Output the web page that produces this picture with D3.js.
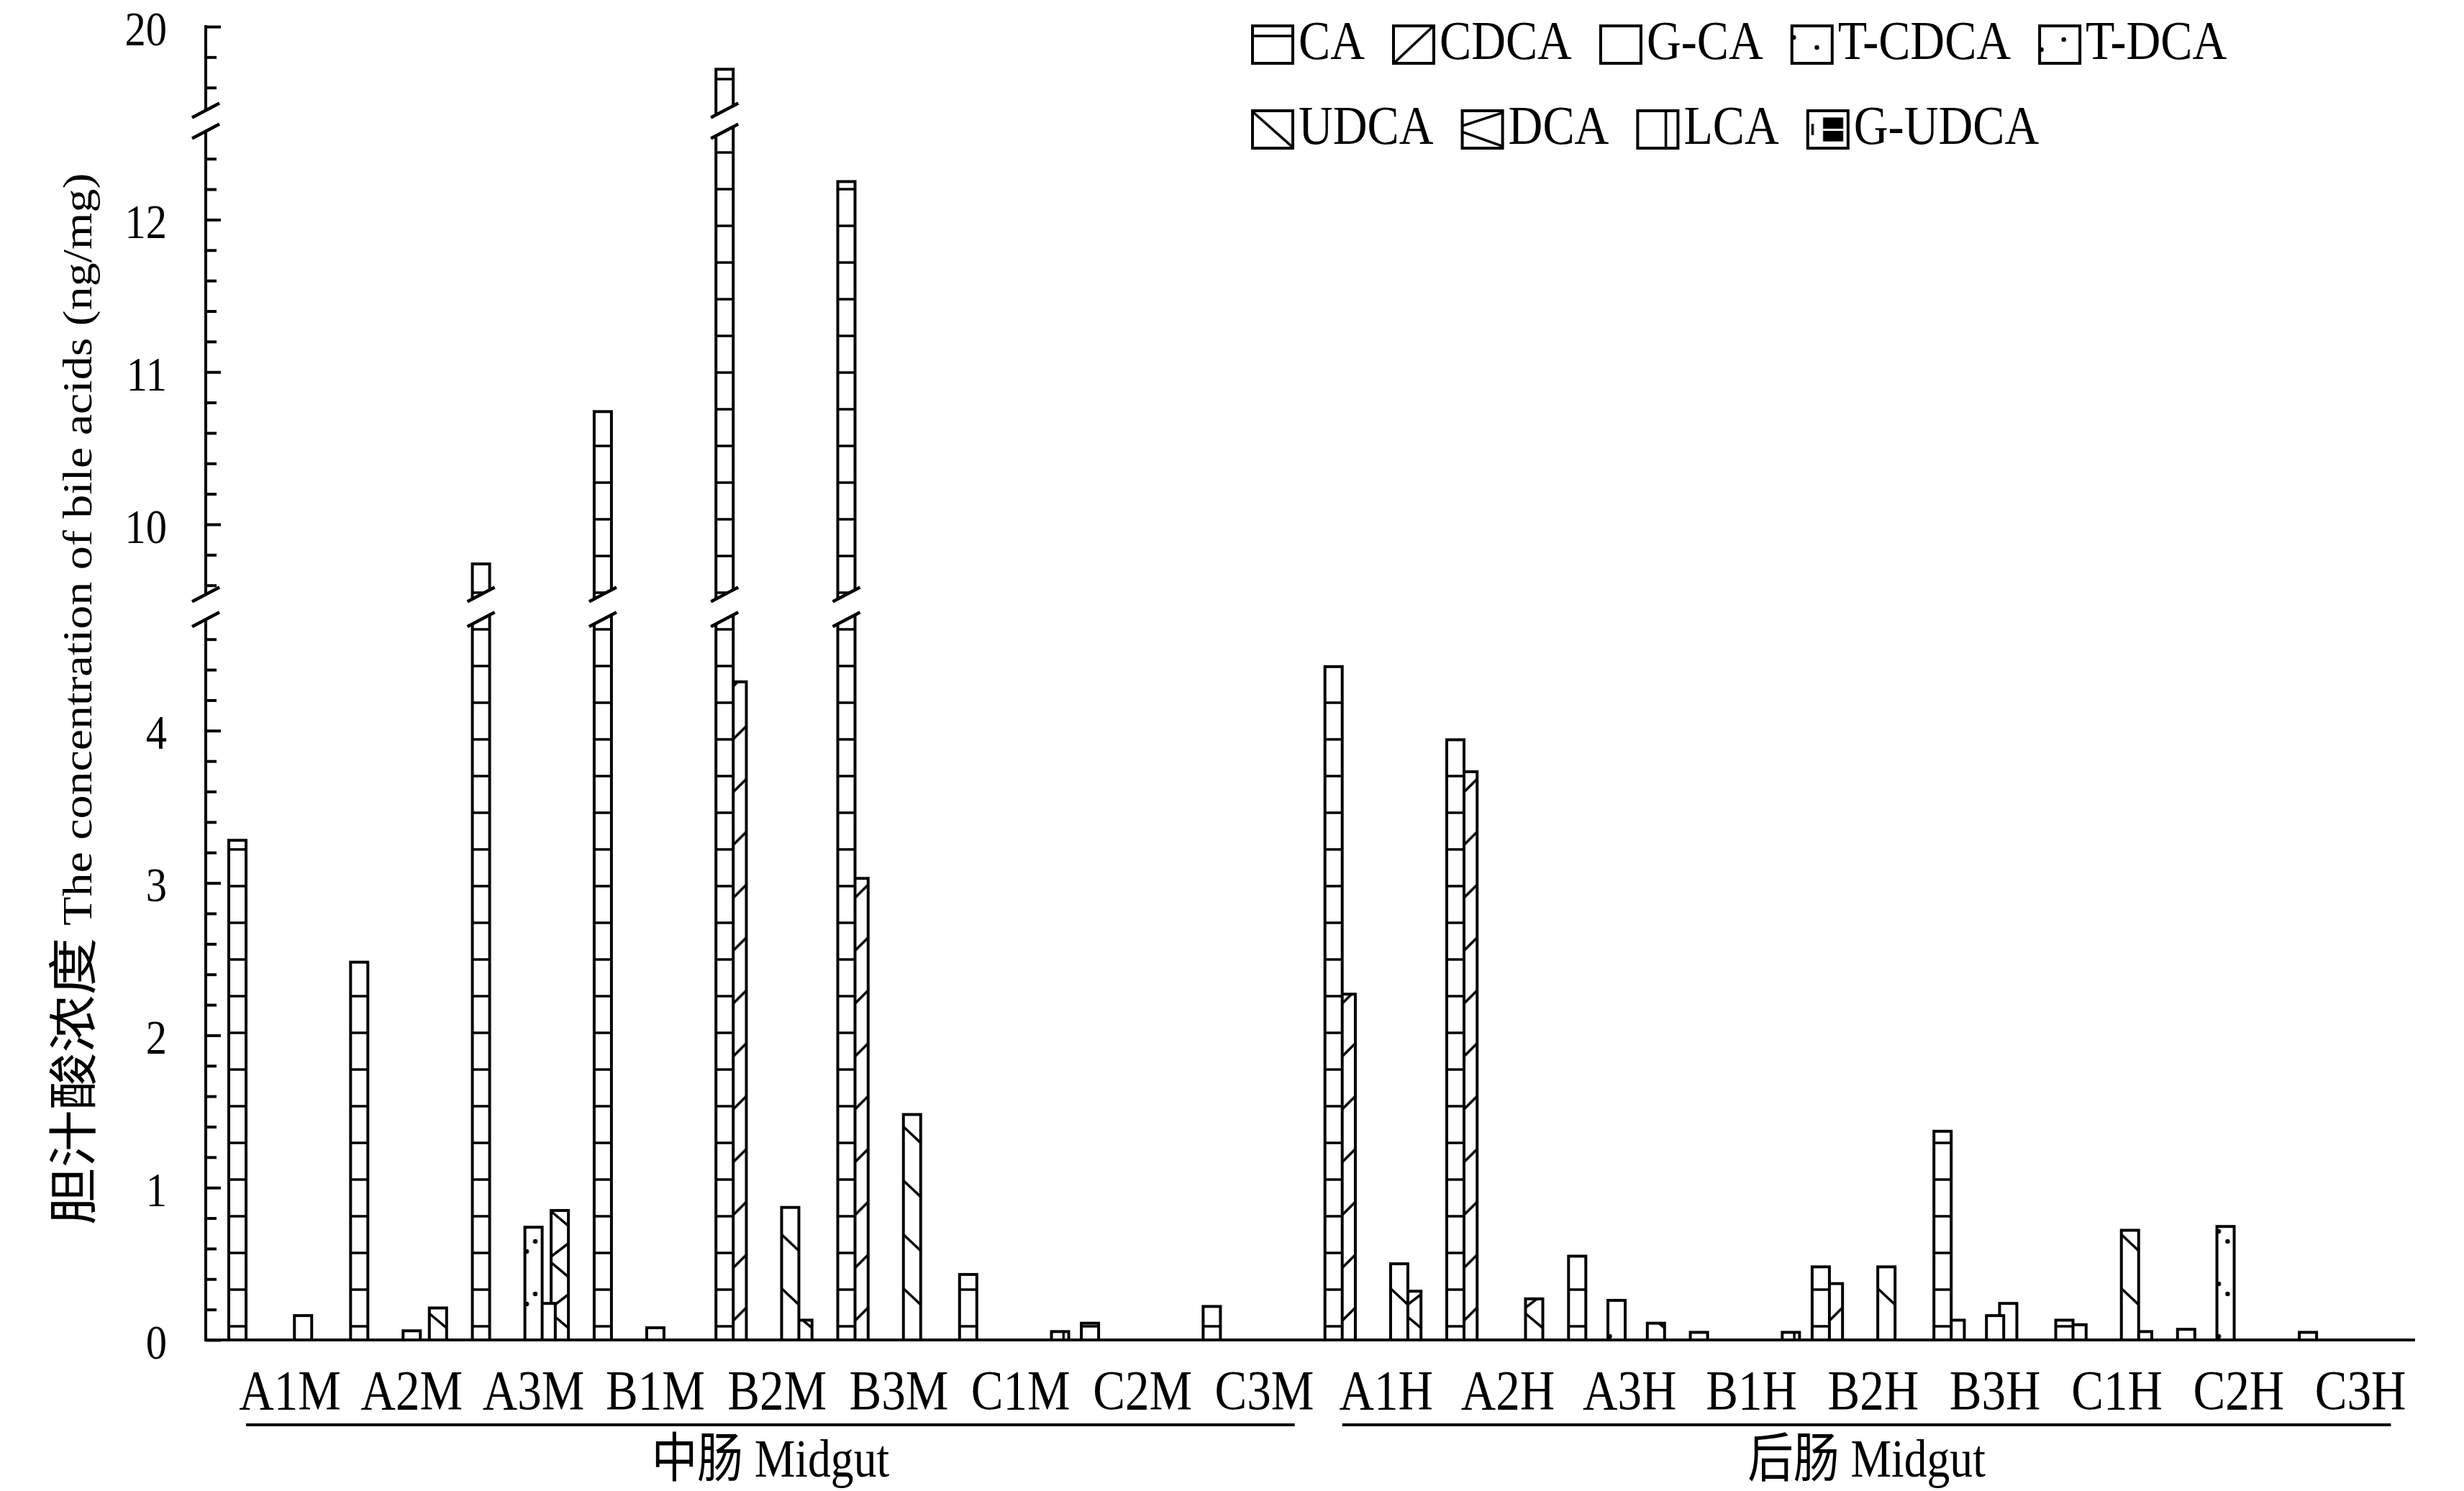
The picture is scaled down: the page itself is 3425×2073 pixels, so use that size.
<!DOCTYPE HTML>
<html lang="zh">
<head>
    <meta http-equiv="Content-Type" content="text/html; charset=utf-8">
    <title>Bile acids in gut</title>
    <script src="https://cdn.jsdelivr.net/npm/d3@7"></script>
    <style type="text/css">
        html,body{margin:0;padding:0;background:#fff}
        svg{display:block}
        text{font-family:"Liberation Serif","Times New Roman","Noto Sans CJK SC",serif;fill:#000}
    </style>
</head>
<body>
<div id="chart"></div>
<script type="text/javascript">
// categories
var groups=["A1M","A2M","A3M","B1M","B2M","B3M","C1M","C2M","C3M","A1H","A2H","A3H","B1H","B2H","B3H","C1H","C2H","C3H"];
var seriesNames=["CA","CDCA","G-CA","T-CDCA","T-DCA","UDCA","DCA","LCA","G-UDCA"];
var sections=[["中肠 Midgut","A1M","C3M"],["后肠 Midgut","A1H","C3H"]];
var yTitleZh="胆汁酸浓度";
var yTitleEn=" The concentration of bile acids (ng/mg)";
// values (ng/mg)
var caValues   =[3.28,2.48,9.74,10.74,19.72,12.25,0.43,0.11,0.22,4.42,3.94,0.55,0.05,0.48,1.37,0.13,0.07,0.05];
var cdcaValues =[0,0,0,0,4.32,3.03,0,0,0,2.27,3.73,0,0,0.37,0.13,0.10,0,0];
var gcaValues  =[0,0,0,0,0,0,0,0,0,0,0,0,0,0,0,0,0,0];
var tcdcaValues=[0,0,0,0,0,0,0,0,0,0,0,0.26,0,0,0,0,0.745,0];
var tdcaValues =[0,0.06,0.74,0.08,0,0,0,0,0,0,0,0,0,0,0.16,0,0,0];
var udcaValues =[0.16,0,0.24,0,0.87,1.48,0,0,0,0.50,0,0,0,0.48,0.24,0.72,0,0];
var dcaValues  =[0,0.21,0.85,0,0.13,0,0,0,0,0.32,0.27,0.11,0,0,0,0.055,0,0];
var lcaValues  =[0,0,0,0,0,0,0.055,0,0,0,0,0,0.05,0,0,0,0,0];
var gudcaValues=[0,0,0,0,0,0,0,0,0,0,0,0,0,0,0,0,0,0];
var allValues=[caValues,cdcaValues,gcaValues,tcdcaValues,tdcaValues,udcaValues,dcaValues,lcaValues,gudcaValues];
// broken y axis: value ranges of the three pieces and their labelled ticks
var segDomains=[[0,4.73],[9.54,12.58],[19.45,20]];
var majorTicks=[[0,1,2,3,4],[10,11,12],[20]];

var W=3425,H=2073;
var axisX=286, baseY=1863, xEnd=3357;
var unit=211.8;// px per ng/mg
var segBottoms=[baseY,729+(10-9.54)*unit,37+(20-19.45)*unit];
var barW=24, seriesStep=18.25, groupStep=169.3, firstCenter=403;
var brk=10;// half rise of the break marks
var sx=0.86;// glyphs in the figure are a bit narrow

var svg=d3.select("#chart").append("svg").attr("width",W).attr("height",H);
var defs=svg.append("defs");

var segs=segDomains.map(function(d,i){
    return d3.scaleLinear().domain(d).range([segBottoms[i],segBottoms[i]-(d[1]-d[0])*unit]);
});
var x0=d3.scalePoint().domain(groups).range([firstCenter,firstCenter+(groups.length-1)*groupStep]);
var x1=d3.scalePoint().domain(seriesNames).range([-4*seriesStep,4*seriesStep]);

// hatch tiles: repeat height, and for the legend a vertical stretch and the tile row to centre
var periods={"CA":51,"CDCA":73.5,"G-CA":50,"T-CDCA":73,"T-DCA":73,"UDCA":75,"DCA":71,"LCA":50,"G-UDCA":52};
var legStretch={"CA":1,"CDCA":2.2,"G-CA":1,"T-CDCA":1,"T-DCA":1,"UDCA":2.2,"DCA":1,"LCA":1,"G-UDCA":1};
var legCentre={"CA":44,"CDCA":40.5,"G-CA":25,"T-CDCA":5,"T-DCA":16,"UDCA":14.7,"DCA":31,"LCA":25,"G-UDCA":26};

function hatch(p,a) {
    p.append("line").attr("x1",a[0]).attr("y1",a[1]).attr("x2",a[2]).attr("y2",a[3])
        .attr("stroke","#000").attr("stroke-width",3.5);
}
function dot(p,cx,cy) {
    p.append("circle").attr("cx",cx).attr("cy",cy).attr("r",3.2).attr("fill","#000");
}
function makePattern(id,name,x,yBase,w,ls) {
    ls=ls||1;
    var per=periods[name]*ls;
    var p=defs.append("pattern").attr("id",id).attr("patternUnits","userSpaceOnUse")
        .attr("x",x).attr("y",yBase).attr("width",w).attr("height",per);
    p.append("rect").attr("width",w).attr("height",per).attr("fill","#fff");
    if(name=="CA") hatch(p,[0,32*ls,w,32*ls]);
    else if(name=="CDCA") hatch(p,[0,52.5*ls,w,28.5*ls]);
    else if(name=="T-CDCA") {dot(p,0.62*w,9*ls);dot(p,2.5,68*ls);}
    else if(name=="T-DCA") {dot(p,0.6*w,9*ls);dot(p,2.5,23*ls);}
    else if(name=="UDCA") hatch(p,[0,3.4*ls,w,26*ls]);
    else if(name=="DCA") {hatch(p,[0,34.3*ls,w,54.3*ls]);hatch(p,[w,7.7*ls,0,26*ls]);}
    else if(name=="LCA") hatch(p,[0.7*w,0,0.7*w,per]);
    else if(name=="G-UDCA") {
        p.append("rect").attr("x",0.38*w).attr("y",per*0.18).attr("width",0.5*w).attr("height",per*0.64).attr("fill","#000");
        p.append("rect").attr("x",0.38*w).attr("y",per*0.48).attr("width",0.5*w).attr("height",3).attr("fill","#fff");
        hatch(p,[0.12*w,per*0.35,0.12*w,per*0.65]);
    }
    return "url(#"+id+")";
}

function drawBreak(g,xa,xb,yL,yU) {
    var r=brk*(xb-xa)/38;
    g.append("polygon")
        .attr("points",[[xa,yL+r],[xb,yL-r],[xb,yU-r],[xa,yU+r]].join(" "))
        .attr("fill","#fff");
    [yL,yU].forEach(function(y){
        g.append("line").attr("x1",xa).attr("y1",y+r).attr("x2",xb).attr("y2",y-r)
            .attr("stroke","#000").attr("stroke-width",4.5);
    });
}

function addText(g,str,x,y,size,anchor) {
    return g.append("text")
        .attr("transform","translate("+x+","+y+") scale("+sx+",1)")
        .attr("text-anchor",anchor)
        .style("font-size",size+"px")
        .text(str);
}

// bars, drawn last series first so that earlier series lie on top
var bars=[];
seriesNames.forEach(function(s,k){
    allValues[k].forEach(function(v,gi){
        if(v>0) bars.push({s:s,k:k,g:groups[gi],v:v});
    });
});
bars.sort(function(a,b){return b.k-a.k;});

var barLayer=svg.append("g");
bars.forEach(function(d,i){
    var x=x0(d.g)+x1(d.s)-barW/2;
    var fill=makePattern("pb"+i,d.s,x,baseY,barW);
    segs.forEach(function(sc,j){
        var lo=sc.domain()[0], hi=sc.domain()[1];
        if(d.v<=lo && j>0) return;
        var yb=(j==0)?baseY:sc(lo)+brk;
        var yt=(d.v<=hi)?sc(d.v):sc(hi)-brk;
        barLayer.append("rect")
            .attr("x",x).attr("y",yt)
            .attr("width",barW).attr("height",yb-yt)
            .attr("fill",fill)
            .attr("stroke","#000").attr("stroke-width",4);
    });
    for(var j=0;j<segs.length-1;j++) {
        if(d.v>segs[j+1].domain()[0]) {
            drawBreak(barLayer,x-7,x+barW+7,segs[j](segs[j].domain()[1]),segs[j+1](segs[j+1].domain()[0]));
        }
    }
});

// y axis, three pieces
var axisLayer=svg.append("g");
segs.forEach(function(sc,j){
    var lo=sc.domain()[0], hi=sc.domain()[1];
    var minor=d3.range(Math.ceil(lo*5),Math.floor(hi*5)+1).map(function(k){return k/5;})
        .filter(function(v){return v>0 && Math.abs(v-Math.round(v))>1e-6;});
    var gMinor=axisLayer.append("g").attr("transform","translate("+axisX+",0)")
        .call(d3.axisLeft(sc).tickValues(minor).tickSizeInner(-15).tickSizeOuter(0).tickFormat(""));
    gMinor.select(".domain").remove();
    gMinor.selectAll("line").attr("stroke-width",4);
    var gMajor=axisLayer.append("g").attr("transform","translate("+axisX+",0)")
        .call(d3.axisLeft(sc).tickValues(majorTicks[j]).tickSizeInner(-21).tickSizeOuter(0).tickPadding(0).tickFormat(d3.format("d")));
    gMajor.attr("font-family",null).attr("font-size",null);
    gMajor.select(".domain").remove();
    gMajor.selectAll("line").attr("stroke-width",4);
    gMajor.selectAll("text")
        .attr("x",null).attr("dy","0.37em")
        .attr("transform","translate(-54,0) scale("+sx+",1)")
        .style("font-size","68px");
    axisLayer.append("line")
        .attr("x1",axisX).attr("x2",axisX)
        .attr("y1",sc(lo)).attr("y2",sc(hi)-(j==segs.length-1?2:0))
        .attr("stroke","#000").attr("stroke-width",4);
});
for(var j=0;j<segs.length-1;j++) {
    drawBreak(axisLayer,axisX-19,axisX+19,segs[j](segs[j].domain()[1]),segs[j+1](segs[j+1].domain()[0]));
}

// x axis
svg.append("line")
    .attr("x1",axisX-2).attr("x2",xEnd)
    .attr("y1",baseY).attr("y2",baseY)
    .attr("stroke","#000").attr("stroke-width",4);

var labelLayer=svg.append("g");
groups.forEach(function(g){
    addText(labelLayer,g,x0(g),1959,78,"middle");
});
sections.forEach(function(s){
    var xa=x0(s[1])-0.36*groupStep, xb=x0(s[2])+0.25*groupStep;
    labelLayer.append("line")
        .attr("x1",xa).attr("x2",xb).attr("y1",1981).attr("y2",1981)
        .attr("stroke","#000").attr("stroke-width",4);
    addText(labelLayer,s[0],(xa+xb)/2,2053,74,"middle");
});

// y title
var title=svg.append("text")
    .attr("transform","translate(127,972) rotate(-90) scale(1,"+sx+")")
    .attr("text-anchor","middle")
    .style("font-size","66px");
title.append("tspan").style("font-size","80px").text(yTitleZh);
title.append("tspan").text(yTitleEn);

// legend
var legend=svg.append("g");
var legX0=1741, legY0=36, legRow=118, boxW=56, boxH=52;
var lx=legX0;
seriesNames.forEach(function(s,k){
    if(k==5) lx=legX0;
    var row=(k<5)?0:1;
    var top=legY0+row*legRow;
    var ls=legStretch[s];
    var yb=top+boxH/2+(periods[s]-legCentre[s])*ls;
    legend.append("rect")
        .attr("x",lx).attr("y",top).attr("width",boxW).attr("height",boxH)
        .attr("fill",makePattern("pl"+k,s,lx,yb,boxW,ls))
        .attr("stroke","#000").attr("stroke-width",4);
    var t=addText(legend,s,lx+boxW+8,top+46,77,"start");
    lx+=boxW+8+t.node().getComputedTextLength()*sx+40;
});
</script>
</body>
</html>
